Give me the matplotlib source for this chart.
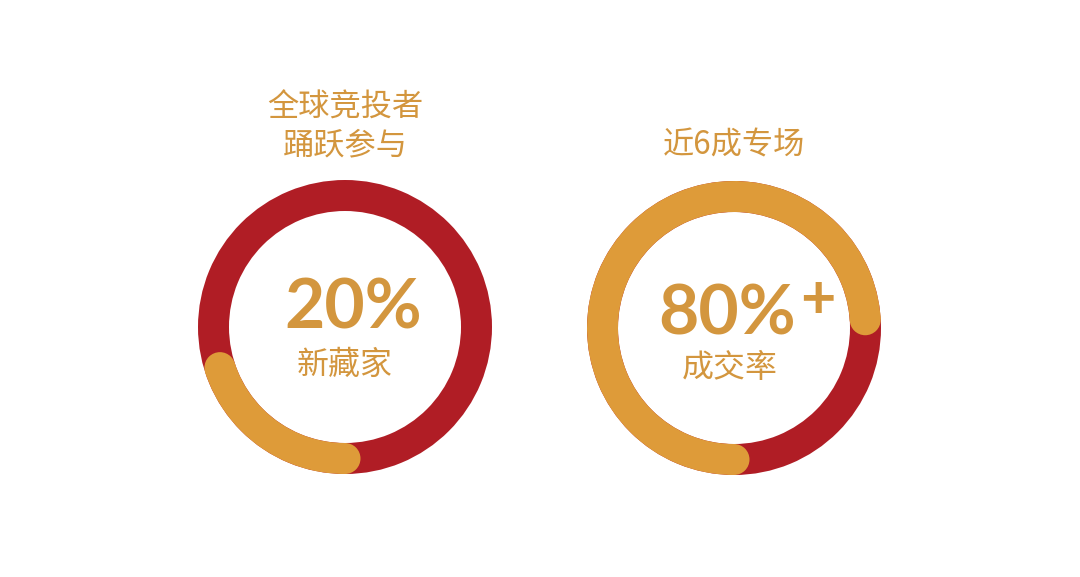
import numpy as np
import matplotlib.pyplot as plt
from matplotlib.patches import Wedge, Circle

W, H = 1080, 577

RED = '#B01D25'
ORANGE = '#DE9B39'
TEXT = '#D3963E'

# data
titles = [['全球竞投者', '踊跃参与'], ['近6成专场']]
big_labels = ['20%', '80%']
sub_labels = ['新藏家', '成交率']
orange_share = [0.20, 0.74]   # share of the ring painted orange, starting at 6 o'clock
sweep_dir = [-1, -1]          # -1 = clockwise

centers = [(345, 327), (734, 328)]   # pixel coords (from top)
R_OUT, WIDTH = 147, 31

plt.rcParams['font.family'] = ['Noto Sans CJK SC', 'DejaVu Sans']

fig = plt.figure(figsize=(W / 100, H / 100), dpi=100)
ax = fig.add_axes([0, 0, 1, 1])
ax.set_xlim(0, W)
ax.set_ylim(0, H)
ax.set_aspect('equal')
ax.axis('off')

r_mid = R_OUT - WIDTH / 2
for i, (cx, cy_px) in enumerate(centers):
    cy = H - cy_px
    ax.add_patch(Wedge((cx, cy), R_OUT, 0, 360, width=WIDTH, color=RED, lw=0))
    span = orange_share[i] * 360
    start = 270
    end = start + sweep_dir[i] * span
    t1, t2 = sorted([start, end])
    ax.add_patch(Wedge((cx, cy), R_OUT, t1, t2, width=WIDTH, color=ORANGE, lw=0))
    # round caps
    for a in (t1, t2):
        ax.add_patch(Circle((cx + r_mid * np.cos(np.radians(a)),
                             cy + r_mid * np.sin(np.radians(a))),
                            WIDTH / 2, color=ORANGE, lw=0))

# titles
title_y = [[108, 145], [145]]
for i, lines in enumerate(titles):
    for line, y in zip(lines, title_y[i]):
        ax.text(centers[i][0], H - y, line, ha='center', va='center',
                fontsize=22.5, color=TEXT, fontweight='medium')

# centre numbers
big_pos = [(353, 309), (727, 315)]
for lab, (x, y) in zip(big_labels, big_pos):
    ax.text(x, H - y, lab, ha='center', va='center', fontsize=50,
            color=TEXT, family=['Lato', 'DejaVu Sans'], fontweight='bold')
ax.text(818, H - 300, '+', ha='center', va='center', fontsize=44,
        color=TEXT, family=['Lato', 'DejaVu Sans'], fontweight='bold')

sub_pos = [(345, 365), (730, 368)]
for lab, (x, y) in zip(sub_labels, sub_pos):
    ax.text(x, H - y, lab, ha='center', va='center', fontsize=23,
            color=TEXT, fontweight='medium')

fig.savefig('out.png', dpi=100, facecolor='white')
